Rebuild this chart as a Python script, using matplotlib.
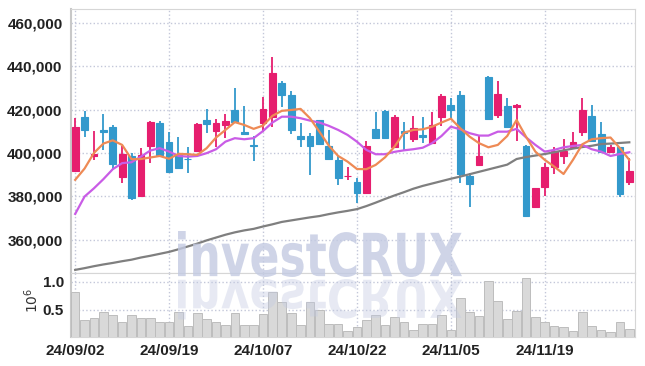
import matplotlib
matplotlib.use('Agg')
import matplotlib.pyplot as plt
import numpy as np
from matplotlib.textpath import TextPath
from matplotlib.patches import PathPatch
from matplotlib.font_manager import FontProperties
from matplotlib.transforms import Affine2D

# 거래일 (yy/mm/dd)
dates = ['24/09/02', '24/09/03', '24/09/04', '24/09/05', '24/09/06', '24/09/09', '24/09/10', '24/09/11',
         '24/09/12', '24/09/13', '24/09/19', '24/09/20', '24/09/23', '24/09/24', '24/09/25', '24/09/26',
         '24/09/27', '24/09/30', '24/10/02', '24/10/04', '24/10/07', '24/10/08', '24/10/10', '24/10/11',
         '24/10/14', '24/10/15', '24/10/16', '24/10/17', '24/10/18', '24/10/21', '24/10/22', '24/10/23',
         '24/10/24', '24/10/25', '24/10/28', '24/10/29', '24/10/30', '24/10/31', '24/11/01', '24/11/04',
         '24/11/05', '24/11/06', '24/11/07', '24/11/08', '24/11/11', '24/11/12', '24/11/13', '24/11/14',
         '24/11/15', '24/11/18', '24/11/19', '24/11/20', '24/11/21', '24/11/22', '24/11/25', '24/11/26',
         '24/11/27', '24/11/28', '24/11/29', '24/12/02']

opens = [391800, 416700, 398600, 410700, 412000, 388800, 398600, 380300, 403400, 413800,
         405100, 399100, 397400, 401100, 415200, 410300, 413000, 419800, 409700, 403500,
         413700, 416500, 432400, 426700, 407800, 407800, 415200, 403400, 396800, 389200,
         386500, 381400, 410900, 419400, 402900, 410300, 406600, 408300, 404700, 416700,
         422100, 426700, 389500, 394500, 435200, 417500, 421700, 421400, 403200, 375000,
         384500, 393400, 398600, 402900, 409800, 417200, 408800, 400300, 402600, 386800]
closes = [411800, 410600, 399500, 409800, 395100, 399500, 379400, 399100, 414300, 399100,
          391400, 393100, 397000, 413400, 413400, 413800, 414700, 414400, 408600, 403300,
          420300, 436900, 426900, 410600, 406300, 403400, 404300, 397100, 388600, 389600,
          381400, 403200, 406800, 407100, 416500, 409200, 411500, 407400, 412800, 426300,
          419800, 390300, 385700, 398600, 415700, 427200, 411900, 422100, 371100, 383700,
          393400, 400900, 400900, 404900, 419800, 405700, 400300, 402800, 381200, 391700]
highs = [416300, 419400, 410100, 417800, 412900, 403400, 399900, 402500, 414600, 414700,
         409500, 407500, 402600, 413600, 420100, 415500, 417800, 429800, 421700, 407800,
         426000, 444100, 433200, 428700, 413700, 409100, 415400, 410600, 398600, 393400,
         388300, 405500, 419000, 419600, 417500, 414400, 417200, 416700, 419000, 427200,
         425500, 428700, 390900, 408300, 435500, 433300, 425200, 422400, 403500, 384000,
         395300, 402600, 406500, 409500, 425200, 422100, 414400, 403500, 402800, 397600]
lows = [391000, 407200, 396800, 401400, 392800, 386000, 378200, 380000, 395300, 398900,
        391000, 392500, 390600, 400800, 409100, 402600, 406800, 414200, 408400, 396300,
        409800, 411800, 421100, 408800, 402600, 389700, 404000, 396800, 385300, 387500,
        376800, 381200, 406600, 406800, 402700, 401100, 404900, 404500, 404500, 412400,
        415500, 386300, 375000, 394300, 415400, 416000, 411700, 405500, 371000, 374800,
        380300, 390300, 394800, 402700, 408000, 405500, 400000, 400100, 379900, 385300]
volumes = [0.82, 0.31, 0.35, 0.46, 0.41, 0.28, 0.41, 0.35, 0.35, 0.28,
           0.28, 0.46, 0.21, 0.44, 0.33, 0.28, 0.23, 0.44, 0.23, 0.23,
           0.42, 0.82, 0.64, 0.44, 0.23, 0.64, 0.50, 0.24, 0.24, 0.11,
           0.19, 0.32, 0.40, 0.22, 0.36, 0.28, 0.14, 0.25, 0.24, 0.41,
           0.14, 0.70, 0.46, 0.38, 1.01, 0.66, 0.34, 0.47, 1.06, 0.36,
           0.28, 0.20, 0.18, 0.11, 0.45, 0.20, 0.14, 0.10, 0.27, 0.16]

# 이동평균선
ma_short = [387600, 392800, 400000, 404300, 405800, 403700, 397100, 397200, 397900, 398600,
            397300, 399600, 399400, 399100, 402200, 407100, 410600, 414200, 412900, 411100,
            412600, 417100, 419400, 419800, 420300, 416000, 409800, 403400, 398600, 396000,
            392600, 392500, 394500, 398000, 402900, 409300, 410600, 410900, 412100, 414000,
            415800, 411400, 407500, 404500, 402600, 403700, 407800, 415200, 407500, 400600,
            396800, 393700, 390300, 396800, 404000, 406300, 406800, 407100, 402200, 396800]
ma_mid = [371900, 379900, 383700, 387900, 392500, 395300, 395700, 398300, 401100, 402200,
          400600, 398600, 398300, 398600, 399900, 401700, 405200, 406800, 406300, 406800,
          410100, 414000, 416700, 416700, 416000, 414900, 414000, 412500, 410600, 408300,
          405200, 401400, 399400, 399400, 400500, 401200, 401700, 402400, 404500, 407800,
          412100, 410900, 409100, 408000, 408000, 409800, 409800, 411100, 407200, 403700,
          400600, 401400, 402600, 403200, 403700, 401700, 400600, 398600, 399500, 400300]
ma_long = [346100, 346900, 347800, 348600, 349300, 350100, 350800, 351800, 352600, 353500,
           354400, 355600, 356900, 358200, 359700, 361000, 362300, 363400, 364300, 365000,
           366100, 367100, 368200, 368900, 369600, 370300, 370900, 371800, 372600, 373300,
           374100, 375500, 377100, 378800, 380400, 381900, 383500, 384800, 385900, 387000,
           388100, 389100, 390200, 391300, 392400, 393500, 394600, 397200, 398100, 398800,
           399500, 400300, 401200, 402000, 402700, 403300, 404100, 404300, 404600, 404900]

price_ticks = [360000, 380000, 400000, 420000, 440000, 460000]
vol_ticks = [0.5, 1.0]

UP = '#e61e6e'
DOWN = '#3399cc'
GRID = '#c3c7d9'

tick_font = dict(family='Liberation Sans', weight='bold', size=11, color='#222222')

fig = plt.figure(figsize=(6.45, 3.66), dpi=100)
fig.patch.set_facecolor('white')
ax = fig.add_axes([0.110, 0.2549, 0.8744, 0.7197])
axv = fig.add_axes([0.110, 0.0779, 0.8744, 0.1770], sharex=ax)

x = np.arange(len(dates))
o = np.array(opens)
c = np.array(closes)
up = c >= o
colors = [UP if u else DOWN for u in up]

# 캔들
ax.vlines(x, lows, highs, colors=colors, linewidth=1.3, zorder=3)
ax.bar(x, np.abs(c - o), bottom=np.minimum(o, c), width=0.72, color=colors,
       edgecolor=colors, linewidth=0.8, zorder=4)

# 이동평균선
ax.plot(x, ma_long, color='#7f7f7f', linewidth=1.6, zorder=5)
ax.plot(x, ma_mid, color='#c95ce6', linewidth=1.6, zorder=5)
ax.plot(x, ma_short, color='#ee8a55', linewidth=1.6, zorder=5)

ax.set_ylim(344800, 466200)
ax.set_xlim(-0.45, 59.6)
ax.set_yticks(price_ticks)
ax.set_yticklabels([f'{v:,}' for v in price_ticks], fontdict=tick_font)
label_idx = list(range(0, len(dates), 10))
ax.set_xticks(label_idx)
ax.tick_params(axis='x', labelbottom=False, length=0)
ax.tick_params(axis='y', length=0, pad=6)
ax.grid(True, color=GRID, linestyle=':', linewidth=1)
ax.set_axisbelow(True)
for s in ax.spines.values():
    s.set_color('#d6d6d6')
ax.spines['left'].set_color('#c8c8c8')
ax.spines['left'].set_linewidth(1.5)

# 거래량
axv.bar(x, volumes, width=0.92, color='#d9d9d9', edgecolor='#bdbdbd', linewidth=0.7, zorder=3)
axv.set_ylim(0, 1.16)
axv.set_yticks(vol_ticks)
axv.set_yticklabels([f'{v:.1f}' for v in vol_ticks], fontdict=tick_font)
axv.set_xticks(label_idx)
axv.set_xticklabels([dates[i] for i in label_idx], fontdict=tick_font)
axv.tick_params(axis='both', length=0, pad=5)
axv.grid(True, color=GRID, linestyle=':', linewidth=1)
axv.set_axisbelow(True)
for s in axv.spines.values():
    s.set_color('#d6d6d6')
axv.spines['left'].set_color('#c8c8c8')
axv.spines['left'].set_linewidth(1.5)
fig.text(32 / 645, 1 - 300 / 366, r'$10^6$', rotation=90, ha='center', va='center',
         fontsize=10, color='#333333')

# 워터마크 (반사 포함)
W, H = 645.0, 366.0
tp = TextPath((0, 0), 'investCRUX', size=1, prop=FontProperties(family='DejaVu Sans', weight='bold'))
ext = tp.get_extents()
x0, x1 = 178, 462
base, top = H - 277, H - 231
sx = (x1 - x0) / ext.width
sy = (top - base) / ext.height
t_main = Affine2D().translate(-ext.x0, -ext.y0).scale(sx / W, sy / H).translate(x0 / W, base / H)
t_refl = Affine2D().translate(-ext.x0, -ext.y0).scale(sx / W, -0.88 * sy / H).translate(x0 / W, (base - 2) / H)
fig.add_artist(PathPatch(t_main.transform_path(tp), transform=fig.transFigure,
                         facecolor='#c3cae2', edgecolor='none', alpha=0.8, zorder=2))
fig.add_artist(PathPatch(t_refl.transform_path(tp), transform=fig.transFigure,
                         facecolor='#c3cae2', edgecolor='none', alpha=0.4, zorder=2))

fig.savefig('out.png', dpi=100, facecolor='white')
